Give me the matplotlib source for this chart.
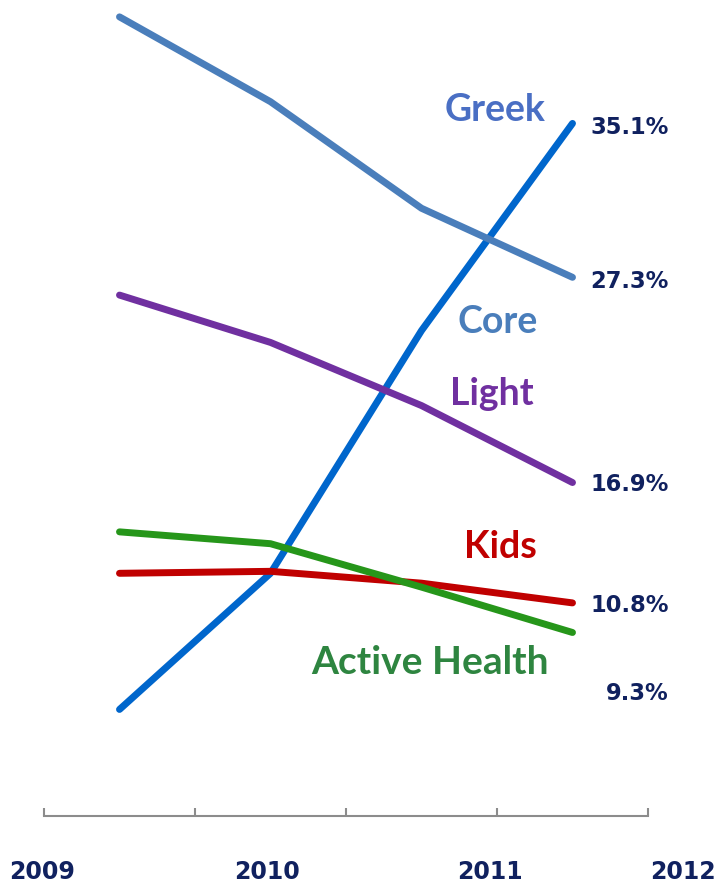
import numpy as np
import matplotlib.pyplot as plt

# значения (%)
years = ["2009", "2010", "2011", "2012"]
greek = [5.4, 12.3, 24.6, 35.1]
core = [40.5, 36.2, 30.8, 27.3]
light = [26.4, 24.0, 20.8, 16.9]
kids = [12.3, 12.4, 11.8, 10.8]
active = [14.4, 13.8, 11.6, 9.3]

end_labels = ["35.1%", "27.3%", "16.9%", "10.8%", "9.3%"]

NAVY = "#10215F"
series = [
    ("Greek", greek, "#0066CC", "#4A6FC4"),
    ("Core", core, "#4A7EBB", "#4A7EBB"),
    ("Light", light, "#7030A0", "#7030A0"),
    ("Kids", kids, "#C00000", "#C00000"),
    ("Active Health", active, "#26961A", "#2E8540"),
]

W, H = 716, 889
fig = plt.figure(figsize=(W / 100, H / 100), dpi=100)
ax = fig.add_axes([44 / W, 1 - 816 / H, 604 / W, 809 / H])

x = np.arange(len(years))
for name, vals, lc, tc in series:
    ax.plot(x, vals, color=lc, lw=5, solid_capstyle="round", solid_joinstyle="round")

ax.set_xlim(-0.5, 3.5)
ax.set_ylim(0, 41)
ax.set_xticks(np.arange(-0.5, 3.6, 1))
ax.set_xticklabels([])
ax.set_yticks([])
for s in ["top", "right", "left"]:
    ax.spines[s].set_visible(False)
ax.spines["bottom"].set_color("#8C8C8C")
ax.spines["bottom"].set_linewidth(1.5)
ax.tick_params(axis="x", direction="in", length=6, width=1.5, color="#8C8C8C")


def px(xp, yp):
    return xp / W, 1 - yp / H


# подписи серий
name_pos = {"Greek": (495, 110), "Core": (498, 322), "Light": (492, 394),
            "Kids": (500, 547), "Active Health": (430, 663)}
name_size = {"Greek": 27, "Core": 27, "Light": 27, "Kids": 27, "Active Health": 28}
for name, vals, lc, tc in series:
    fig.text(*px(*name_pos[name]), name, color=tc, fontsize=name_size[name],
             fontweight="bold", family="Lato", ha="center", va="center")

# значения на конце
end_y = [127, 281, 485, 606, 693]
for lab, yp in zip(end_labels, end_y):
    fig.text(*px(669, yp), lab, color=NAVY, fontsize=16.3, fontweight="bold",
             family="DejaVu Sans", ha="right", va="center")

# годы
year_x = [42, 267, 490, 683]
for lab, xp in zip(years, year_x):
    fig.text(*px(xp, 872), lab, color=NAVY, fontsize=17, fontweight="bold",
             family="DejaVu Sans", ha="center", va="center")

fig.savefig("out.png", dpi=100)
